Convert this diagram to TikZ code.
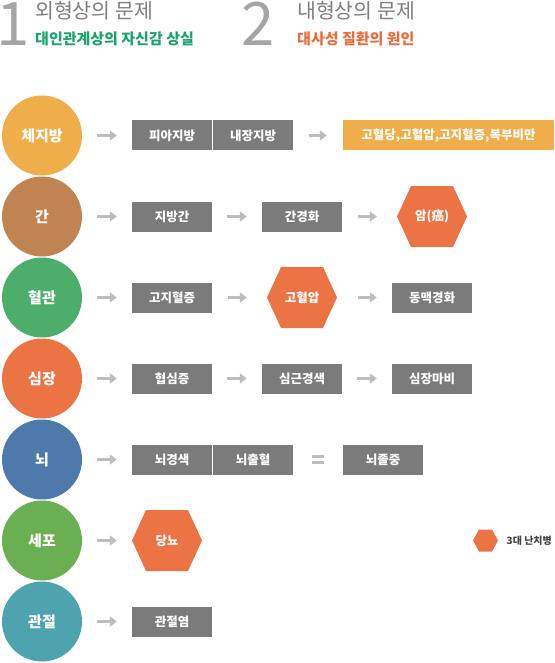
\documentclass[tikz,border=0pt]{standalone}
\usepackage{fontspec}
\setmainfont{Noto Sans CJK KR}
\usetikzlibrary{arrows.meta}
\definecolor{cyellow}{HTML}{EFAE4A}
\definecolor{cbrown}{HTML}{C08453}
\definecolor{cgreenA}{HTML}{4DAD6B}
\definecolor{corange}{HTML}{EC7344}
\definecolor{cblue}{HTML}{4D79AB}
\definecolor{cgreenB}{HTML}{6BAF53}
\definecolor{cteal}{HTML}{4EA4AE}
\definecolor{boxgray}{HTML}{7B7B7B}
\definecolor{arrgray}{HTML}{BDBDBD}
\definecolor{numgray}{HTML}{A5A5A5}
\definecolor{titlegray}{HTML}{7F7F7F}
\definecolor{subgreen}{HTML}{1BA36B}
\definecolor{suborange}{HTML}{EC6B3C}
\definecolor{leggray}{HTML}{444444}
\begin{document}
\begin{tikzpicture}[x=1pt,y=-1pt,
  circ/.style={circle, minimum size=80pt, inner sep=0pt, text=white,
    font=\fontsize{15}{15}\selectfont\bfseries},
  gbox/.style={fill=boxgray, minimum width=80pt, minimum height=30pt, inner sep=0pt,
    text=white, font=\fontsize{12.5}{12.5}\selectfont\bfseries},
  hexa/.style={minimum width=#1, inner sep=0pt, fill=white, text=white,
    font=\fontsize{12.5}{12.5}\selectfont\bfseries,
    path picture={\fill[corange] (path picture bounding box.west)
      -- ([xshift=14pt]path picture bounding box.north west)
      -- ([xshift=-14pt]path picture bounding box.north east)
      -- (path picture bounding box.east)
      -- ([xshift=-14pt]path picture bounding box.south east)
      -- ([xshift=14pt]path picture bounding box.south west) -- cycle;}},
  bighex/.style={hexa=70pt, minimum height=61pt},
  arr/.style={draw=arrgray, line width=3pt, -{Triangle[length=7pt,width=10pt]}},
  eqbar/.style={draw=arrgray, line width=3pt},
  numtxt/.style={anchor=base west, inner sep=0pt, text=numgray, font=\fontsize{60}{60}\selectfont},
  ttl/.style={anchor=base west, inner sep=0pt, text=titlegray, font=\fontsize{20.5}{20.5}\selectfont},
  sub/.style={anchor=base west, inner sep=0pt, font=\fontsize{15}{15}\selectfont\bfseries}
]
\useasboundingbox (0,0) rectangle (554,663);

% header
\node[numtxt] (n1) at (-4,46) {\smash{1}};
\node[ttl] (t1) at (35,18.5) {외형상의 문제};
\node[sub, text=subgreen] (s1) at (35,45) {대인관계상의 자신감 상실};
\node[numtxt] (n2) at (241,46) {\smash{2}};
\node[ttl] (t2) at (297,18.5) {내형상의 문제};
\node[sub, text=suborange] (s2) at (297,45) {대사성 질환의 원인};

% row 1
\node[circ, fill=cyellow] (c1) at (42,135.5) {체지방};
\node[gbox] (b11) at (172,135.5) {피아지방};
\node[gbox] (b12) at (253,135.5) {내장지방};
\node[gbox, fill=cyellow, minimum width=211pt] (o13) at (448.5,135.5) {고혈당,고혈압,고지혈증,복부비만};
\draw[arr, shorten <=15pt, shorten >=15pt] (c1) -- (b11);
\draw[arr, shorten <=16pt, shorten >=16pt] (b12) -- (o13);

% row 2
\node[circ, fill=cbrown] (c2) at (42,216.5) {간};
\node[gbox] (b21) at (172,216.5) {지방간};
\node[gbox] (b22) at (302,216.5) {간경화};
\node[bighex] (h23) at (432,216.5) {암(癌)};
\draw[arr, shorten <=15pt, shorten >=15pt] (c2) -- (b21);
\draw[arr, shorten <=15pt, shorten >=15pt] (b21) -- (b22);
\draw[arr, shorten <=16pt, shorten >=20pt] (b22) -- (h23);

% row 3
\node[circ, fill=cgreenA] (c3) at (42,297.5) {혈관};
\node[gbox] (b31) at (172,297.5) {고지혈증};
\node[bighex] (h32) at (302,297.5) {고혈압};
\node[gbox] (b33) at (432,297.5) {동맥경화};
\draw[arr, shorten <=15pt, shorten >=15pt] (c3) -- (b31);
\draw[arr, shorten <=16pt, shorten >=20pt] (b31) -- (h32);
\draw[arr, shorten <=21pt, shorten >=15pt] (h32) -- (b33);

% row 4
\node[circ, fill=corange] (c4) at (42,378.5) {심장};
\node[gbox] (b41) at (172,378.5) {협심증};
\node[gbox] (b42) at (302,378.5) {심근경색};
\node[gbox] (b43) at (432,378.5) {심장마비};
\draw[arr, shorten <=15pt, shorten >=15pt] (c4) -- (b41);
\draw[arr, shorten <=15pt, shorten >=15pt] (b41) -- (b42);
\draw[arr, shorten <=15pt, shorten >=15pt] (b42) -- (b43);

% row 5
\node[circ, fill=cblue] (c5) at (42,459.5) {뇌};
\node[gbox] (b51) at (172,459.5) {뇌경색};
\node[gbox] (b52) at (253,459.5) {뇌출혈};
\node[gbox] (b53) at (383,459.5) {뇌졸중};
\draw[arr, shorten <=15pt, shorten >=15pt] (c5) -- (b51);
\draw[eqbar, shorten <=19pt, shorten >=19pt, transform canvas={yshift=3pt}] (b52) -- (b53);
\draw[eqbar, shorten <=19pt, shorten >=19pt, transform canvas={yshift=-3pt}] (b52) -- (b53);

% row 6
\node[circ, fill=cgreenB] (c6) at (42,540.5) {세포};
\node[bighex] (h61) at (167,540.5) {당뇨};
\draw[arr, shorten <=15pt, shorten >=15pt] (c6) -- (h61);

% legend
\node[minimum width=25pt, minimum height=22pt, inner sep=0pt, fill=white,
  path picture={\fill[corange] (path picture bounding box.west)
      -- ([xshift=6pt]path picture bounding box.north west)
      -- ([xshift=-6pt]path picture bounding box.north east)
      -- (path picture bounding box.east)
      -- ([xshift=-6pt]path picture bounding box.south east)
      -- ([xshift=6pt]path picture bounding box.south west) -- cycle;}] (hl) at (485.5,540.5) {};
\node[anchor=west, inner sep=0pt, text=leggray, font=\fontsize{10}{10}\selectfont\bfseries] (lt) at (506.5,540.5) {3대 난치병};

% row 7
\node[circ, fill=cteal] (c7) at (42,621.5) {관절};
\node[gbox] (b71) at (172,621.5) {관절염};
\draw[arr, shorten <=15pt, shorten >=15pt] (c7) -- (b71);
\end{tikzpicture}
\end{document}
